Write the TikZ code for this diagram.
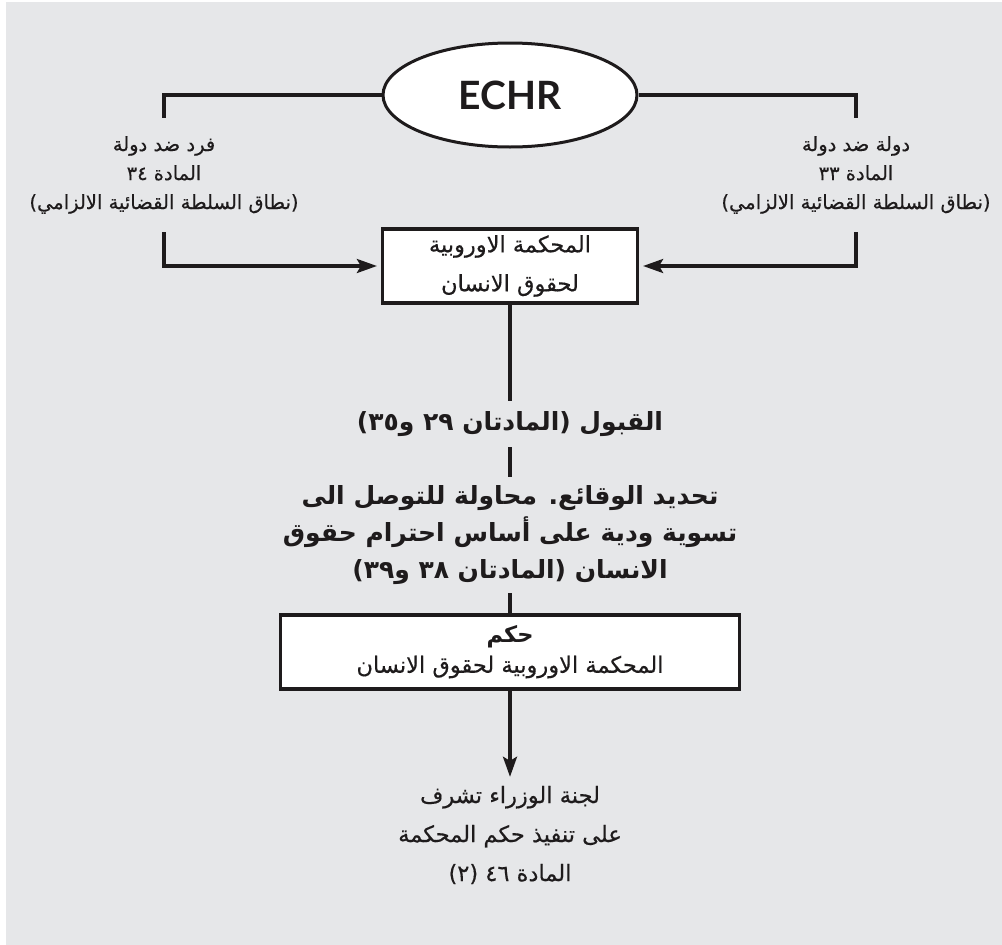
\documentclass[tikz,border=0pt]{standalone}
\usepackage{fontspec}
\usetikzlibrary{arrows.meta,shapes.geometric}
\TeXXeTstate=1
\newfontfamily\arfont[Script=Arabic,FakeBold=0.4]{DejaVu Sans}
\newfontfamily\arbold[Script=Arabic]{DejaVu Sans Bold}
\newfontfamily\latfont{Lato}
\definecolor{bg}{RGB}{230,231,233}
\definecolor{ink}{RGB}{30,27,28}
\tikzset{
  x=1pt,y=-1pt,
  conn/.style={draw=ink,line width=3.2pt},
  arr/.style={conn,-{Stealth[length=20pt,width=14pt,inset=4pt]}},
  boxnode/.style={draw=ink,line width=3.2pt,fill=white,rectangle,inner sep=0pt,align=center,text=ink},
  txt/.style={inner sep=0pt,align=center,text=ink},
  small/.style={font=\arfont\fontsize{19.5}{29}\selectfont},
  mid/.style={font=\arfont\fontsize{22.5}{39}\selectfont},
  big/.style={font=\arbold\fontsize{25}{37}\selectfont},
}
\newcommand{\rl}[1]{\beginR #1\endR}
\begin{document}
\begin{tikzpicture}
\useasboundingbox (0,0) rectangle (1002,945);
\fill[white] (0,0) rectangle (1002,945);
\fill[bg] (6,2) rectangle (1002,945);

\node[draw=ink,line width=3pt,fill=white,ellipse,minimum width=254pt,minimum height=104pt,inner sep=0pt,text=ink,font=\latfont\bfseries\fontsize{39}{42}\selectfont] (echr) at (510,95) {ECHR};

\node[txt,small,minimum height=114pt] (ltxt) at (164,175) {\rl{فرد ضد دولة}\\ \rl{المادة ٣٤}\\ \rl{(نطاق السلطة القضائية الالزامي)}};
\node[txt,small,minimum height=114pt] (rtxt) at (856,175) {\rl{دولة ضد دولة}\\ \rl{المادة ٣٣}\\ \rl{(نطاق السلطة القضائية الالزامي)}};

\node[boxnode,mid,minimum width=255pt,minimum height=74pt] (court) at (510,266) {\rl{المحكمة الاوروبية}\\ \rl{لحقوق الانسان}};

\node[txt,big,minimum height=46pt] (admis) at (510,424) {\rl{القبول (المادتان ٢٩ و٣٥)}};

\node[txt,big,minimum height=116pt] (facts) at (510,535) {\rl{تحديد الوقائع. محاولة للتوصل الى}\\ \rl{تسوية ودية على أساس احترام حقوق}\\ \rl{الانسان (المادتان ٣٨ و٣٩)}};

\node[boxnode,minimum width=459pt,minimum height=74pt,font=\arfont\fontsize{22.5}{30}\selectfont] (judg) at (510,652) {{\arbold\rl{حكم}}\\ \rl{المحكمة الاوروبية لحقوق الانسان}};

\node[txt,mid,minimum height=116pt] (cm) at (510,835) {\rl{لجنة الوزراء تشرف}\\ \rl{على تنفيذ حكم المحكمة}\\ \rl{المادة ٤٦ (٢)}};

\draw[conn] (echr.west) -| (ltxt.north);
\draw[conn] (echr.east) -| (rtxt.north);
\draw[arr,shorten >=4pt] (ltxt.south) |- (court.west);
\draw[arr,shorten >=4pt] (rtxt.south) |- (court.east);
\draw[conn] (court.south) -- (admis.north);
\draw[conn] (admis.south) -- (facts.north);
\draw[conn] (facts.south) -- (judg.north);
\draw[arr] (judg.south) -- (cm.north);
\end{tikzpicture}
\end{document}
